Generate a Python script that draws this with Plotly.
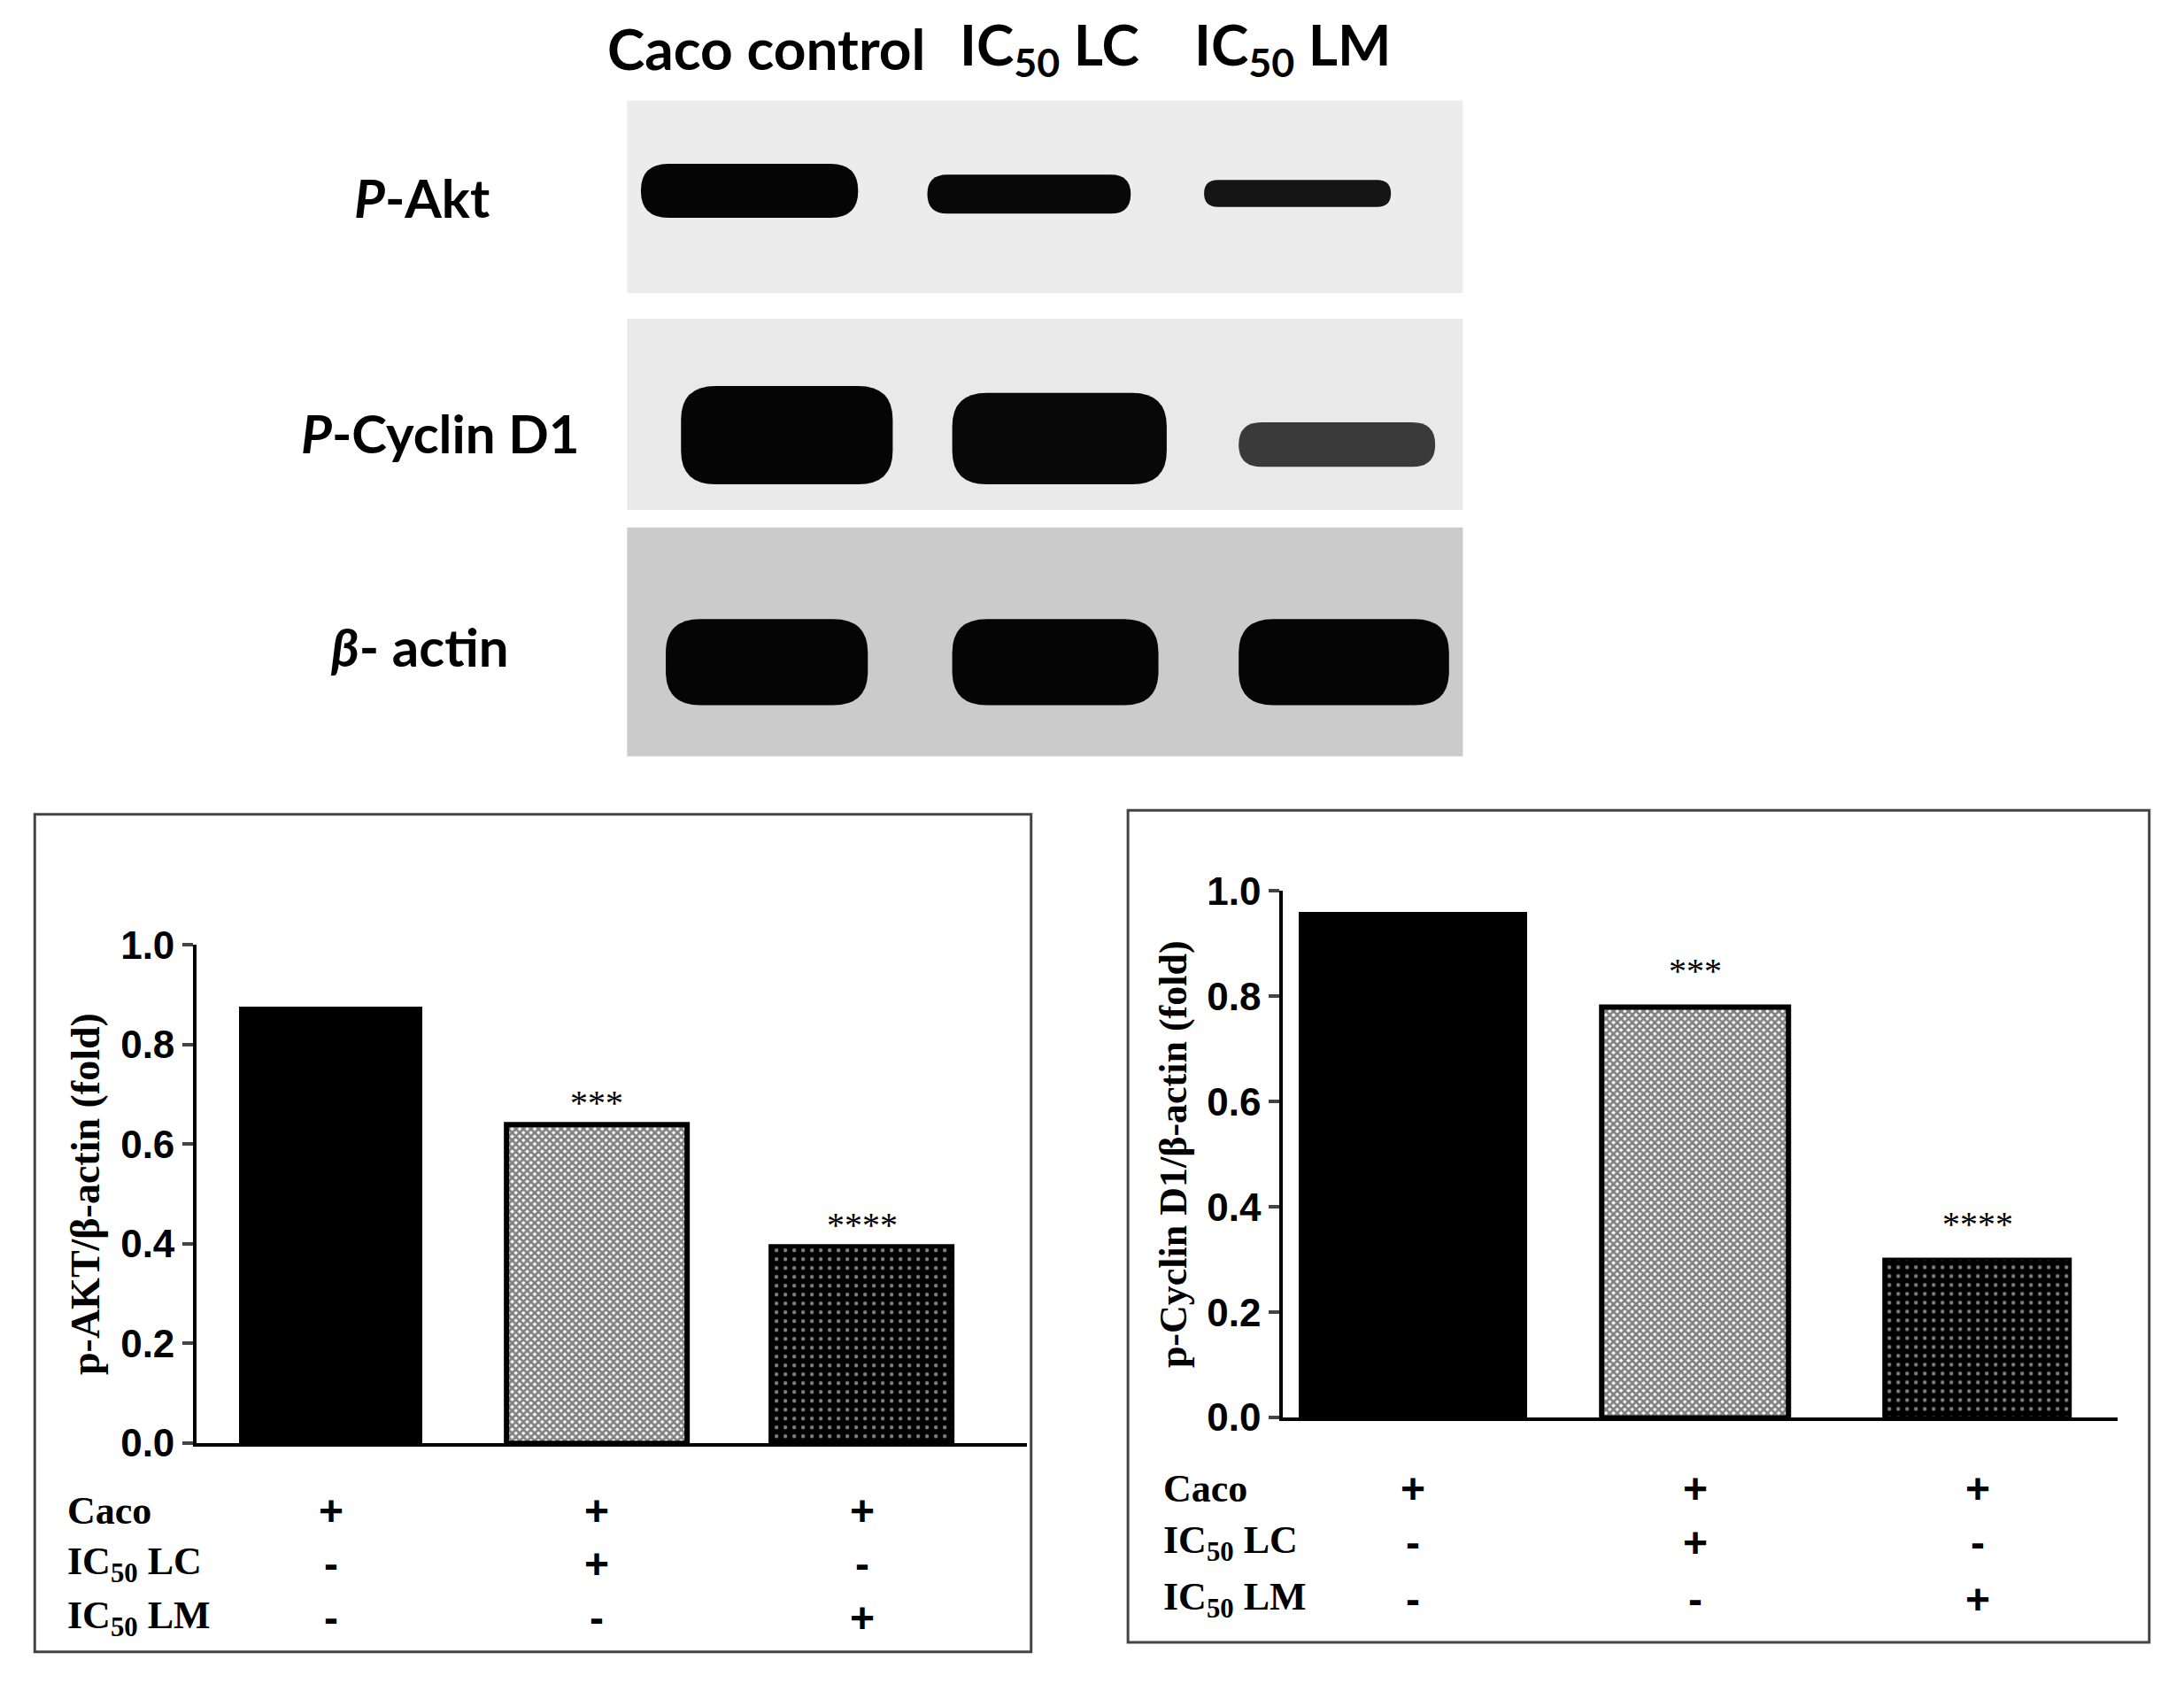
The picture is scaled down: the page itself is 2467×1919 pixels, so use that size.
import plotly.graph_objects as go

# bar data
groups = ["Caco", "IC50 LC", "IC50 LM"]
akt = [0.875, 0.64, 0.395]
cyclin = [0.96, 0.78, 0.30]
akt_sig = ["", "***", "****"]
cyclin_sig = ["", "***", "****"]
caco_row = ["+", "+", "+"]
lc_row = ["-", "+", "-"]
lm_row = ["-", "-", "+"]
row_labels = ["Caco", "IC<sub>50</sub> LC", "IC<sub>50</sub> LM"]
lane_labels = ["Caco control", "IC<sub>50</sub> LC", "IC<sub>50</sub> LM"]
blot_labels = ["<i>P</i>-Akt", "<i>P</i>-Cyclin D1", "<i>β</i>- actin"]
y_ticks = [0.0, 0.2, 0.4, 0.6, 0.8, 1.0]

W, H = 1568.0, 1219.0  # layout sketched in reference pixel units
def px(x): return x / W
def py(y): return 1 - y / H

SERIF = "Liberation Serif"
SANS = "Liberation Sans"

fig = go.Figure()
bar_colors = ["black", "white", "black"]
patterns = [dict(shape=""),
            dict(shape="x", fgcolor="black", bgcolor="white", size=6, solidity=0.7),
            dict(shape=".", fgcolor="white", bgcolor="black", size=10, solidity=0.15)]
line_w = [0, 6, 3]

def add_bars(vals, xa, ya, widths):
    for i in range(3):
        fig.add_trace(go.Bar(x=[i], y=[vals[i]], width=widths[i], xaxis=xa, yaxis=ya,
                             marker=dict(color=bar_colors[i], pattern=patterns[i],
                                         line=dict(color="black", width=line_w[i])),
                             showlegend=False))

add_bars(akt, "x", "y", [0.69, 0.68, 0.69])
add_bars(cyclin, "x2", "y2", [0.81, 0.66, 0.66])

yax = dict(range=[0, 1], tickvals=y_ticks, ticktext=["<b>%.1f</b>" % v for v in y_ticks],
           ticks="outside", ticklen=12, tickwidth=4,
           showline=True, linewidth=4, linecolor="black", showgrid=False, zeroline=False,
           tickfont=dict(family=SANS, size=44, color="black"))
xax = dict(showticklabels=False, showline=True, linewidth=4, linecolor="black",
           showgrid=False, zeroline=False, ticks="")

fig.update_layout(
    width=2451, height=1903, autosize=False,
    xaxis=dict(xax, domain=[px(137), px(737)], range=[-0.505, 2.62]),
    yaxis=dict(yax, domain=[py(1050), py(680)],
               title=dict(text="<b>p-AKT/β-actin (fold)</b>", standoff=10,
                          font=dict(family=SERIF, size=46, color="black"))),
    xaxis2=dict(xax, domain=[px(922), px(1525)], range=[-0.46, 2.495], anchor="y2"),
    yaxis2=dict(yax, domain=[py(1031), py(640)], anchor="x2",
                title=dict(text="<b>p-Cyclin D1/β-actin (fold)</b>", standoff=10,
                           font=dict(family=SERIF, size=44, color="black"))),
    margin=dict(l=0, r=0, t=0, b=0), plot_bgcolor="white", paper_bgcolor="white",
    bargap=0,
)

ann = []
# significance stars
for i in range(3):
    if akt_sig[i]:
        ann.append(dict(x=i, y=akt[i], xref="x", yref="y", text=akt_sig[i], showarrow=False,
                        yanchor="bottom", yshift=0, font=dict(family=SERIF, size=40, color="black")))
    if cyclin_sig[i]:
        ann.append(dict(x=i, y=cyclin[i], xref="x2", yref="y2", text=cyclin_sig[i], showarrow=False,
                        yanchor="bottom", yshift=16, font=dict(family=SERIF, size=40, color="black")))

# treatment tables
def table(xref, label_x, rows_y):
    for r, (lab, vals) in enumerate(zip(row_labels, [caco_row, lc_row, lm_row])):
        ann.append(dict(x=px(label_x), y=py(rows_y[r]), xref="paper", yref="paper", text="<b>" + lab + "</b>",
                        showarrow=False, xanchor="left", yanchor="middle",
                        font=dict(family=SERIF, size=44, color="black")))
        for i in range(3):
            ann.append(dict(x=i, y=py(rows_y[r]), xref=xref, yref="paper", text="<b>" + vals[i] + "</b>",
                            showarrow=False, xanchor="center", yanchor="middle",
                            font=dict(family=SANS, size=48, color="black")))

table("x", 42, [1100, 1140, 1180])
table("x2", 834, [1084, 1124, 1166])

# blot labels
for lab, x in zip(lane_labels, [549, 753, 929]):
    ann.append(dict(x=px(x), y=py(14), xref="paper", yref="paper", text="<b>" + lab + "</b>",
                    showarrow=False, xanchor="center", yanchor="middle",
                    font=dict(family="Lato", size=64, color="black")))
for lab, x, y in zip(blot_labels, [300, 313, 298], [125, 300, 458]):
    ann.append(dict(x=px(x), y=py(y), xref="paper", yref="paper", text="<b>" + lab + "</b>",
                    showarrow=False, xanchor="center", yanchor="middle",
                    font=dict(family="Lato", size=60, color="black")))

shapes = []
# panel frames
for x0, y0, x1, y1 in [(20, 583, 740, 1205), (810, 580, 1548, 1198)]:
    shapes.append(dict(type="rect", xref="paper", yref="paper", x0=px(x0), x1=px(x1), y0=py(y1), y1=py(y0),
                       line=dict(color="#444", width=3)))

def rr(x0, y0, x1, y1, color):
    r = min((y1 - y0) / 2, 25)
    X0, X1, Y0, Y1 = px(x0), px(x1), py(y0), py(y1)
    rx, ry = r / W, r / H
    path = (f"M{X0+rx},{Y0} L{X1-rx},{Y0} Q{X1},{Y0} {X1},{Y0-ry} L{X1},{Y1+ry} Q{X1},{Y1} {X1-rx},{Y1} "
            f"L{X0+rx},{Y1} Q{X0},{Y1} {X0},{Y1+ry} L{X0},{Y0-ry} Q{X0},{Y0} {X0+rx},{Y0} Z")
    return dict(type="path", xref="paper", yref="paper", path=path, fillcolor=color, line=dict(width=0))

# blot membranes
for y0, y1, c in [(53, 196, "#ececec"), (215, 357, "#e9e9e9"), (370, 540, "#cbcbcb")]:
    shapes.append(dict(type="rect", xref="paper", yref="paper", x0=px(448), x1=px(1052), y0=py(y1), y1=py(y0),
                       fillcolor=c, line=dict(width=0), layer="below"))
# bands
for b in [(458, 100, 615, 140, "#050505"), (665, 108, 812, 137, "#080808"), (865, 112, 1000, 132, "#151515"),
          (487, 265, 640, 338, "#050505"), (683, 270, 838, 338, "#080808"), (890, 292, 1032, 325, "#3a3a3a"),
          (476, 438, 622, 502, "#050505"), (683, 438, 832, 502, "#050505"), (890, 438, 1042, 502, "#050505")]:
    shapes.append(rr(*b))

fig.update_layout(annotations=ann, shapes=shapes)
fig.write_html("out.html")
